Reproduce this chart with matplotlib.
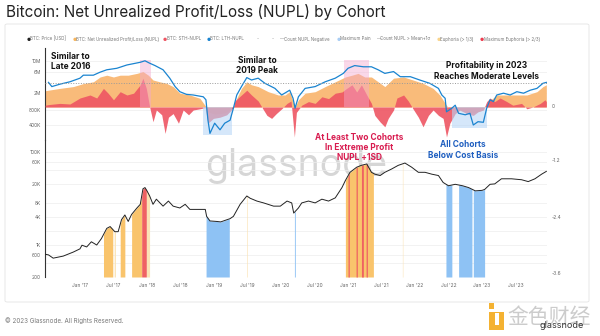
import matplotlib.pyplot as plt
import matplotlib.patches as mpatches
import numpy as np

plt.rcParams['font.family'] = ['Inter', 'DejaVu Sans']

# ---- data (decimal years) ----
lth_t = [2016.53, 2016.58, 2016.70, 2016.85, 2017.00, 2017.05, 2017.20, 2017.30, 2017.40, 2017.55,
         2017.70, 2017.90, 2017.97, 2018.04, 2018.12, 2018.24, 2018.34, 2018.42, 2018.49, 2018.59,
         2018.69, 2018.84, 2018.88, 2018.91, 2018.94, 2019.01, 2019.09, 2019.16, 2019.24, 2019.29,
         2019.34, 2019.41, 2019.49, 2019.56, 2019.66, 2019.76, 2019.91, 2020.01, 2020.13, 2020.18,
         2020.21, 2020.26, 2020.36, 2020.51, 2020.66, 2020.81, 2020.93, 2021.00, 2021.10, 2021.23,
         2021.35, 2021.45, 2021.55, 2021.68, 2021.78, 2021.93, 2022.07, 2022.22, 2022.35, 2022.40,
         2022.45, 2022.47, 2022.55, 2022.60, 2022.65, 2022.75, 2022.82, 2022.87, 2022.94, 2023.02,
         2023.07, 2023.12, 2023.17, 2023.22, 2023.32, 2023.42, 2023.52, 2023.62, 2023.72, 2023.82,
         2023.91, 2023.96]
lth_v = [0.41, 0.34, 0.38, 0.42, 0.48, 0.53, 0.53, 0.58, 0.62, 0.645,
         0.70, 0.745, 0.77, 0.73, 0.69, 0.62, 0.48, 0.34, 0.255, 0.21,
         0.20, 0.17, 0.12, -0.22, -0.44, -0.27, -0.38, -0.27, -0.22, -0.02,
         0.20, 0.34, 0.49, 0.45, 0.48, 0.395, 0.31, 0.20, 0.28, 0.145,
         -0.02, 0.17, 0.31, 0.34, 0.42, 0.48, 0.56, 0.645, 0.69, 0.67,
         0.67, 0.62, 0.56, 0.59, 0.505, 0.505, 0.45, 0.395, 0.31, 0.20,
         0.145, -0.08, -0.02, 0.03, -0.105, -0.13, -0.105, -0.30, -0.245, -0.255,
         -0.02, 0.12, 0.09, 0.20, 0.23, 0.20, 0.255, 0.23, 0.28, 0.31,
         0.395, 0.41]

nupl_t = [2016.48, 2016.53, 2016.70, 2016.90, 2017.05, 2017.20, 2017.30, 2017.40, 2017.50, 2017.60,
          2017.72, 2017.85, 2017.94, 2018.02, 2018.09, 2018.19, 2018.29, 2018.39, 2018.49, 2018.64,
          2018.79, 2018.88, 2018.91, 2019.01, 2019.16, 2019.24, 2019.29, 2019.34, 2019.41, 2019.49,
          2019.56, 2019.66, 2019.81, 2019.96, 2020.06, 2020.13, 2020.18, 2020.21, 2020.26, 2020.36,
          2020.51, 2020.66, 2020.81, 2020.96, 2021.06, 2021.15, 2021.25, 2021.35, 2021.45, 2021.55,
          2021.68, 2021.83, 2021.97, 2022.12, 2022.27, 2022.37, 2022.45, 2022.50, 2022.67, 2022.87,
          2023.02, 2023.07, 2023.22, 2023.37, 2023.52, 2023.67, 2023.82, 2023.91, 2023.96]
nupl_v = [0.27, 0.28, 0.31, 0.34, 0.39, 0.42, 0.50, 0.53, 0.50, 0.53,
          0.53, 0.56, 0.59, 0.53, 0.45, 0.42, 0.395, 0.34, 0.23, 0.20,
          0.145, 0.005, -0.08, -0.12, -0.10, -0.05, 0.0, 0.145, 0.31, 0.42,
          0.37, 0.34, 0.255, 0.20, 0.20, 0.255, 0.09, 0.0, 0.12, 0.23,
          0.255, 0.34, 0.42, 0.50, 0.53, 0.56, 0.50, 0.50, 0.42, 0.34,
          0.48, 0.50, 0.45, 0.395, 0.31, 0.20, 0.06, -0.02, -0.06, -0.10,
          -0.05, 0.06, 0.20, 0.20, 0.20, 0.20, 0.255, 0.34, 0.37]

sth_t = [2016.48, 2016.53, 2016.70, 2016.85, 2017.00, 2017.15, 2017.25, 2017.35, 2017.42, 2017.50,
         2017.60, 2017.70, 2017.80, 2017.90, 2017.94, 2017.99, 2018.04, 2018.09, 2018.14, 2018.22,
         2018.27, 2018.32, 2018.39, 2018.47, 2018.54, 2018.62, 2018.69, 2018.79, 2018.87, 2018.91,
         2018.99, 2019.09, 2019.19, 2019.26, 2019.29, 2019.31, 2019.41, 2019.49, 2019.56, 2019.66,
         2019.74, 2019.79, 2019.86, 2019.93, 2020.01, 2020.09, 2020.15, 2020.20, 2020.23, 2020.31,
         2020.41, 2020.51, 2020.61, 2020.71, 2020.81, 2020.91, 2020.98, 2021.06, 2021.13, 2021.20,
         2021.28, 2021.35, 2021.40, 2021.48, 2021.55, 2021.60, 2021.68, 2021.73, 2021.83, 2021.90,
         2021.97, 2022.05, 2022.12, 2022.20, 2022.27, 2022.35, 2022.42, 2022.47, 2022.52, 2022.60,
         2022.67, 2022.77, 2022.87, 2022.94, 2023.02, 2023.07, 2023.12, 2023.19, 2023.27, 2023.37,
         2023.46, 2023.59, 2023.67, 2023.76, 2023.87, 2023.94, 2023.96]
sth_v = [0.03, 0.04, 0.06, 0.05, 0.15, 0.20, 0.15, 0.31, 0.23, 0.12,
         0.255, 0.20, 0.23, 0.37, 0.48, 0.31, 0.0, -0.245, -0.05, -0.13,
         -0.44, -0.17, -0.11, -0.27, -0.05, -0.13, -0.05, -0.03, -0.01, -0.27,
         -0.19, -0.17, -0.13, -0.05, 0.0, 0.10, 0.20, 0.28, 0.20, 0.10,
         -0.05, -0.14, -0.19, -0.11, -0.03, 0.06, 0.10, -0.50, -0.09, 0.03,
         0.09, 0.06, 0.17, 0.14, 0.23, 0.25, 0.31, 0.37, 0.25, 0.37,
         0.20, 0.06, -0.14, -0.25, -0.33, -0.19, -0.05, 0.15, 0.20, 0.10,
         -0.03, -0.17, -0.33, -0.14, -0.05, -0.14, -0.19, -0.50, -0.27, -0.11,
         -0.05, -0.11, -0.14, -0.08, -0.05, 0.09, 0.15, 0.09, 0.15, 0.09,
         0.03, 0.06, -0.03, 0.0, 0.06, 0.12, 0.09]

price_t = [2016.48, 2016.53, 2016.60, 2016.75, 2016.90, 2017.00, 2017.03, 2017.10, 2017.17, 2017.25,
           2017.32, 2017.40, 2017.45, 2017.52, 2017.57, 2017.62, 2017.67, 2017.72, 2017.77, 2017.85,
           2017.90, 2017.94, 2017.97, 2018.00, 2018.04, 2018.09, 2018.14, 2018.24, 2018.32, 2018.39,
           2018.49, 2018.57, 2018.64, 2018.74, 2018.87, 2018.89, 2018.94, 2019.04, 2019.10, 2019.24,
           2019.29, 2019.39, 2019.49, 2019.54, 2019.64, 2019.74, 2019.89, 2019.99, 2020.09, 2020.16,
           2020.19, 2020.26, 2020.31, 2020.41, 2020.51, 2020.61, 2020.71, 2020.81, 2020.91, 2020.96,
           2021.03, 2021.13, 2021.20, 2021.28, 2021.35, 2021.40, 2021.48, 2021.55, 2021.65, 2021.75,
           2021.85, 2021.95, 2022.05, 2022.15, 2022.25, 2022.35, 2022.42, 2022.50, 2022.60, 2022.71,
           2022.80, 2022.90, 2023.00, 2023.04, 2023.12, 2023.19, 2023.29, 2023.44, 2023.59, 2023.69,
           2023.79, 2023.89, 2023.96]
price_v = [620, 600, 510, 565, 690, 810, 970, 890, 1150, 980,
           1350, 2240, 2450, 1900, 1900, 3460, 4360, 3160, 4470, 6170,
           7400, 16000, 17000, 14450, 11200, 7400, 9550, 6760, 8700, 6760,
           6170, 7400, 5750, 5750, 5750, 4070, 3240, 3160, 3090, 3630,
           4070, 7400, 11200, 10000, 8700, 7940, 6760, 6760, 8700, 7940,
           4790, 6170, 7940, 8700, 7940, 9550, 8700, 10200, 17000, 24000,
           36300, 46800, 51300, 55000, 36300, 33100, 30900, 36300, 42700, 51300,
           57500, 46800, 36300, 36300, 33100, 30900, 21900, 18600, 20000, 18600,
           17000, 14450, 14800, 15500, 20000, 20400, 26300, 26300, 25100, 22900,
           26300, 33100, 38000]

euphoria = [(2017.35, 2017.49), (2017.60, 2017.67), (2017.77, 2017.92), (2020.96, 2021.38)]
euphoria_pale = [(2017.51, 2017.53), (2017.99, 2018.04), (2019.49, 2019.50), (2021.81, 2021.82)]
max_euphoria = [(2017.92, 2017.99), (2021.00, 2021.02), (2021.12, 2021.14), (2021.20, 2021.23),
                (2021.27, 2021.29)]
max_pain = [(2018.88, 2019.23), (2020.20, 2020.215), (2022.46, 2022.55), (2022.65, 2022.85),
            (2022.87, 2023.04)]

top_ticks = [0.767, 0.588, 0.228, -0.05, -0.30]
top_labels = ['10M', '6M', '2M', '800K', '400K']
price_ticks = [1e5, 6e4, 2e4, 8e3, 4e3, 1e3, 600, 200]
price_labels = ['100K', '60K', '20K', '8K', '4K', '1K', '600', '200']
price_minor = [4e4, 2e3, 400]
right_ticks = [-1.2, -2.4, -3.6]
x_ticks = [2017 + 0.5 * i for i in range(14)]
x_labels = ["Jan '17", "Jul '17", "Jan '18", "Jul '18", "Jan '19", "Jul '19", "Jan '20",
            "Jul '20", "Jan '21", "Jul '21", "Jan '22", "Jul '22", "Jan '23", "Jul '23"]

W, H = 600, 336


def box(x0, y0, x1, y1):
    return [x0 / W, 1 - y1 / H, (x1 - x0) / W, (y1 - y0) / H]


def fx(x):
    return x / W


def fy(y):
    return 1 - y / H


fig = plt.figure(figsize=(6, 3.36), dpi=100)
fig.patch.set_facecolor('white')

# card
card = mpatches.FancyBboxPatch((fx(5), fy(302)), fx(584), (302 - 24) / H,
                               boxstyle='round,pad=0,rounding_size=0.004',
                               transform=fig.transFigure, fc='white', ec='#e4e4e4', lw=0.6,
                               zorder=-5)
fig.add_artist(card)

xlim = (2016.478, 2023.97)

# ---- top panel ----
ax1 = fig.add_axes(box(45, 48, 547, 140))
ax1.set_xlim(*xlim)
ax1.set_ylim(-0.55, 0.983)
ax1.fill_between(nupl_t, 0, nupl_v, color='#f9bb7a', lw=0, zorder=2)
ax1.fill_between(sth_t, 0, sth_v, color='#ee5563', lw=0, alpha=0.9, zorder=3)
for a, b in [(2017.89, 2018.06), (2020.94, 2021.31)]:
    ax1.fill_between([a, b], 0, 0.78, color='#f4a9cf', alpha=0.45, lw=0, zorder=4)
for a, b, lo in [(2018.84, 2019.27, -0.47), (2022.55, 2023.07, -0.35)]:
    ax1.fill_between([a, b], lo, 0, color='#b9d7f7', alpha=0.6, lw=0, zorder=4)
ax1.plot(lth_t, lth_v, color='#1a84d0', lw=0.9, zorder=5)
ax1.axhline(0.405, color='#9a9a9a', ls=(0, (1, 1.6)), lw=0.7, zorder=6)
ax1.set_yticks(top_ticks)
ax1.set_yticklabels(top_labels)
ax1.set_xticks([])
ax1.grid(axis='y', color='#ededed', lw=0.5, zorder=0)
ax1.text(1.01, 0.0, '0', transform=ax1.get_yaxis_transform(), fontsize=3.5,
         color='#666', va='center', ha='left')

# ---- bottom panel ----
ax2 = fig.add_axes(box(45, 140, 547, 277))
ax2.set_xlim(*xlim)
ax2.set_yscale('log')
ax2.set_ylim(200, 180700)
tt = np.linspace(xlim[0], xlim[1], 4000)
pp = np.exp(np.interp(tt, price_t, np.log(price_v)))


def bands(spans, color):
    for a, b in spans:
        m = (tt >= a) & (tt <= b)
        ax2.fill_between(tt, 200, pp, where=m, color=color, lw=0, zorder=2)


bands(euphoria, '#f9c46c')
bands(euphoria_pale, '#fbe3b5')
bands(max_euphoria, '#ef6262')
bands(max_pain, '#8ec2f4')
ax2.plot(price_t, price_v, color='#222222', lw=0.7, zorder=5)
ax2.set_yticks(price_ticks)
ax2.set_yticklabels(price_labels)
ax2.set_yticks(price_minor, minor=True)
ax2.yaxis.set_minor_formatter(plt.NullFormatter())
ax2.grid(axis='y', which='both', color='#ededed', lw=0.5, zorder=0)
ax2.set_xticks(x_ticks)
ax2.set_xticklabels(x_labels)
# right hand scale (-0.762 at the top edge, -3.664 at the bottom edge)
lo_log, hi_log = np.log10(200), np.log10(180700)
for v in right_ticks:
    frac = (-0.762 - v) / (3.664 - 0.762)
    yy = 10 ** (hi_log - frac * (hi_log - lo_log))
    ax2.text(1.01, yy, '%.1f' % v, transform=ax2.get_yaxis_transform(), fontsize=3.5,
             color='#666', va='center', ha='left')

for ax in (ax1, ax2):
    for s in ('top', 'right', 'bottom'):
        ax.spines[s].set_visible(False)
    ax.spines['left'].set_color('#333333')
    ax.spines['left'].set_linewidth(0.8)
    ax.tick_params(axis='both', which='both', length=0, labelsize=3.5, labelcolor='#666')
    ax.tick_params(axis='y', pad=3)
    ax.set_facecolor('none')
ax2.tick_params(axis='x', pad=4.5)

# watermark
fig.text(fx(296), fy(166), 'glassnode', fontsize=27, color='#d6d6d6', ha='center',
         va='center', zorder=-1)

# ---- titles and notes ----
fig.text(fx(6), fy(12), 'Bitcoin: Net Unrealized Profit/Loss (NUPL) by Cohort',
         fontsize=11, color='#222', va='center')

bold = dict(fontsize=6, fontweight='bold', linespacing=1.15)
fig.text(fx(51), fy(61.5), 'Similar to\nLate 2016', ha='left', va='center', color='#111', **bold)
fig.text(fx(257), fy(65.5), 'Similar to\n2019 Peak', ha='center', va='center', color='#111', **bold)
fig.text(fx(487), fy(71), 'Profitability in 2023\nReaches Moderate Levels', ha='center',
         va='center', color='#111', **bold)
fig.text(fx(359), fy(147.5), 'At Least Two Cohorts\nIn Extreme Profit\nNUPL +1SD', ha='center',
         va='center', color='#d81b4f', **bold)
fig.text(fx(463), fy(150), 'All Cohorts\nBelow Cost Basis', ha='center', va='center',
         color='#1f5fc0', **bold)

# legend row
legend = [(27, '●', '#222', 'BTC: Price [USD]'),
          (73, '●', '#f7b55c', 'BTC: Net Unrealized Profit/Loss (NUPL)'),
          (163, '●', '#ee5563', 'BTC: STH-NUPL'),
          (207, '●', '#1a84d0', 'BTC: LTH-NUPL'),
          (257, '-', '#999', ''),
          (272, '-', '#999', ''),
          (280, '—', '#999', 'Count NUPL Negative'),
          (337, '●', '#a9cdf4', 'Maximum Pain'),
          (377, '—', '#999', 'Count NUPL > Mean+1σ'),
          (437, '●', '#f9d48c', 'Euphoria (> 1/3)'),
          (480, '●', '#ec3b4e', 'Maximum Euphoria (> 2/3)')]
for x, mk, col, lab in legend:
    fig.text(fx(x), fy(39), mk, fontsize=3.3, color=col, va='center', ha='left')
    if lab:
        fig.text(fx(x + 3.5), fy(39), lab, fontsize=3.2, color='#777', va='center', ha='left')

# footer
fig.text(fx(5), fy(321), '© 2023 Glassnode. All Rights Reserved.', fontsize=4.5,
         color='#7a7a7a', va='center')
fig.add_artist(mpatches.Rectangle((fx(489), fy(309)), 5 / W, 6 / H, transform=fig.transFigure,
                                  fc='#f4b232', ec='none'))
fig.add_artist(mpatches.Rectangle((fx(489), fy(330)), 15 / W, 18 / H, transform=fig.transFigure,
                                  fc='#f4b232', ec='none'))
fig.add_artist(mpatches.Rectangle((fx(495), fy(325)), 4 / W, 12 / H, transform=fig.transFigure,
                                  fc='white', ec='none'))
fig.text(fx(549), fy(317), '金色财经', family=['Noto Sans CJK SC'], fontsize=15,
         color='#cccccc', ha='center', va='center')
fig.text(fx(562), fy(326), 'glassnode', fontsize=6.5, color='#333', ha='center', va='center')

fig.savefig('out.png', dpi=100)
